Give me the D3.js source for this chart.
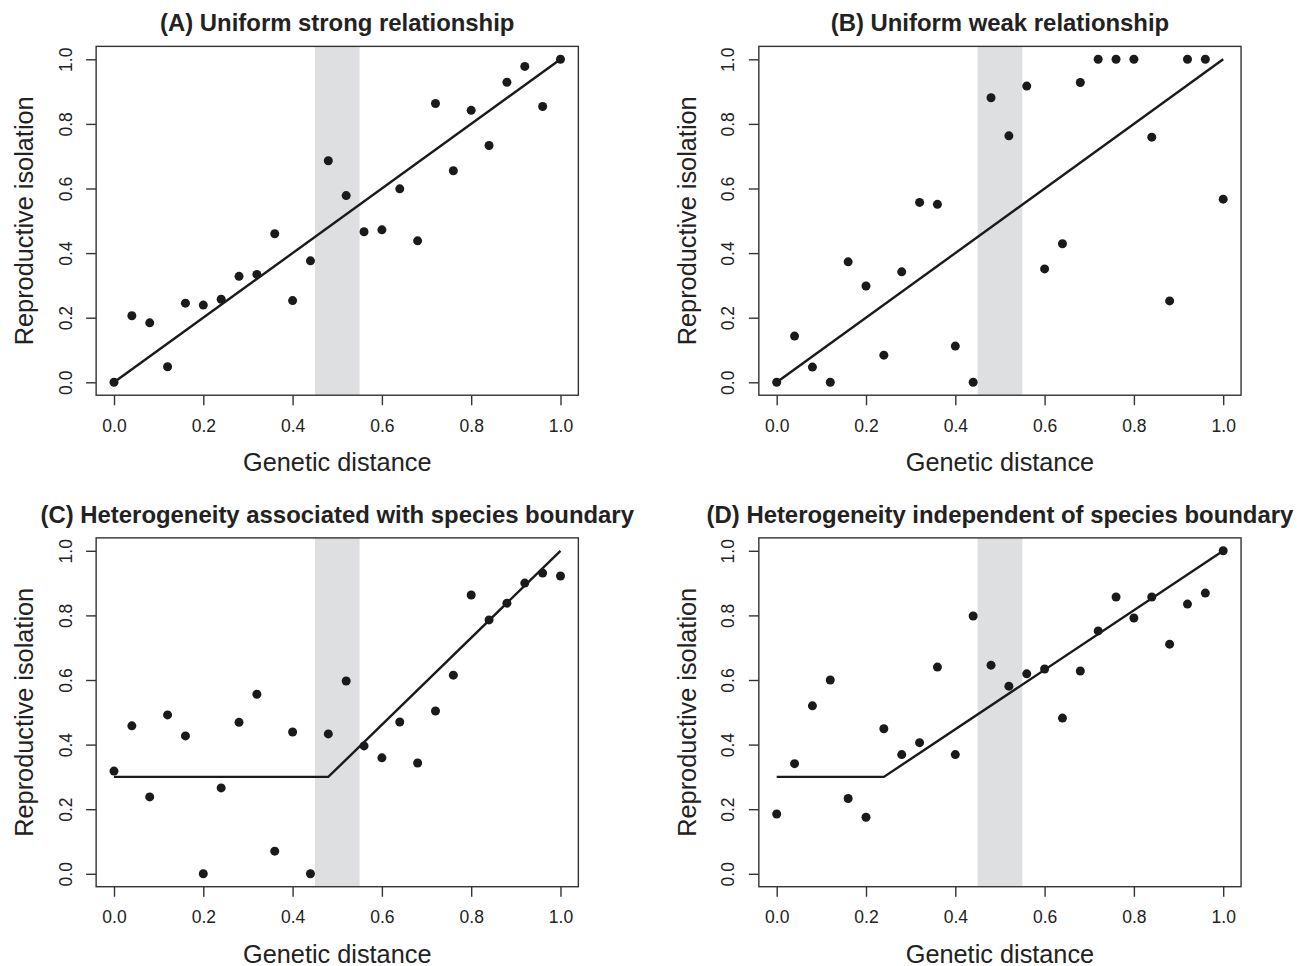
<!DOCTYPE html>
<html>
<head>
<meta charset="utf-8">
<script src="https://cdn.jsdelivr.net/npm/d3@7"></script>
<style>
  body { margin: 0; background: #fff; }
  svg text { font-family: "Liberation Sans", Arial, Helvetica, sans-serif; fill: #222; }
</style>
</head>
<body>
<script>
// shared x values (genetic distance)
var geneticDistance = [0.00, 0.04, 0.08, 0.12, 0.16, 0.20, 0.24, 0.28, 0.32, 0.36, 0.40, 0.44, 0.48,
                       0.52, 0.56, 0.60, 0.64, 0.68, 0.72, 0.76, 0.80, 0.84, 0.88, 0.92, 0.96, 1.00];

var isolationA = [0, 0.206, 0.184, 0.048, 0.245, 0.239, 0.257, 0.328, 0.334, 0.46, 0.253, 0.376, 0.686,
                  0.578, 0.466, 0.472, 0.599, 0.438, 0.863, 0.655, 0.842, 0.733, 0.929, 0.978, 0.854, 1.0];
var isolationB = [0, 0.143, 0.047, 0, 0.373, 0.298, 0.084, 0.342, 0.557, 0.551, 0.112, 0, 0.881,
                  0.763, 0.917, 0.351, 0.429, 0.928, 1, 1, 1, 0.759, 0.252, 1, 1, 0.567];
var isolationC = [0.318, 0.458, 0.238, 0.492, 0.427, 0, 0.266, 0.469, 0.556, 0.07, 0.439, 0, 0.433,
                  0.597, 0.396, 0.359, 0.47, 0.343, 0.504, 0.615, 0.863, 0.786, 0.838, 0.9, 0.931, 0.922];
var isolationD = [0.185, 0.341, 0.52, 0.6, 0.233, 0.175, 0.449, 0.369, 0.406, 0.64, 0.369, 0.798, 0.646,
                  0.581, 0.619, 0.634, 0.482, 0.628, 0.752, 0.857, 0.792, 0.857, 0.711, 0.835, 0.869, 1.0];

// fitted lines (breakpoints)
var lineA = [[0, 0], [1, 1]];
var lineB = [[0, 0], [1, 1]];
var lineC = [[0, 0.3], [0.48, 0.3], [1, 1]];
var lineD = [[0, 0.3], [0.24, 0.3], [1, 1]];

var titles = ["(A) Uniform strong relationship",
              "(B) Uniform weak relationship",
              "(C) Heterogeneity associated with species boundary",
              "(D) Heterogeneity independent of species boundary"];

var speciesBand = [0.45, 0.55];
var tickVals = [0, 0.2, 0.4, 0.6, 0.8, 1.0];

var panels = [
  {title: titles[0], y: isolationA, fit: lineA, dx: 0,     dy: 0},
  {title: titles[1], y: isolationB, fit: lineB, dx: 662.7, dy: 0},
  {title: titles[2], y: isolationC, fit: lineC, dx: 0,     dy: 491.5},
  {title: titles[3], y: isolationD, fit: lineD, dx: 662.7, dy: 491.5}
];

var svg = d3.select("body").append("svg")
    .attr("width", 1305)
    .attr("height", 966);

var x = d3.scaleLinear().domain([0, 1]).range([114, 560.5]);
var y = d3.scaleLinear().domain([0, 1]).range([382.3, 59.3]);
var fmt = d3.format(".1f");

function drawPanel(p) {
  var g = svg.append("g").attr("transform", "translate(" + p.dx + "," + p.dy + ")");

  // R-style 4% padding round the data range
  var bx0 = x(-0.04), bx1 = x(1.04), by0 = y(-0.04), by1 = y(1.04);

  g.append("rect")
    .attr("x", x(speciesBand[0]))
    .attr("width", x(speciesBand[1]) - x(speciesBand[0]))
    .attr("y", by1)
    .attr("height", by0 - by1)
    .style("fill", "#dedfe1");

  var line = d3.line().x(function(d) { return x(d[0]); }).y(function(d) { return y(d[1]); });
  g.append("path")
    .datum(p.fit)
    .attr("d", line)
    .style("fill", "none")
    .style("stroke", "#1a1a1a")
    .style("stroke-width", 2.4);

  g.selectAll("circle")
    .data(p.y)
    .enter()
    .append("circle")
    .attr("cx", function(d, i) { return x(geneticDistance[i]); })
    .attr("cy", function(d) { return y(d); })
    .attr("r", 4.5)
    .style("fill", "#1a1a1a");

  g.append("rect")
    .attr("x", bx0).attr("y", by1)
    .attr("width", bx1 - bx0).attr("height", by0 - by1)
    .style("fill", "none")
    .style("stroke", "#333")
    .style("stroke-width", 1.4);

  var xAxis = g.append("g")
    .attr("transform", "translate(0," + by0 + ")")
    .call(d3.axisBottom(x).tickValues(tickVals).tickFormat(fmt).tickSize(10).tickPadding(14));
  xAxis.select(".domain").remove();
  xAxis.selectAll("line").style("stroke", "#333").style("stroke-width", 1.4);
  xAxis.selectAll("text").style("font-size", "17.5px").style("fill", "#222");

  var yAxis = g.append("g")
    .attr("transform", "translate(" + bx0 + ",0)")
    .call(d3.axisLeft(y).tickValues(tickVals).tickFormat(fmt).tickSize(10));
  yAxis.select(".domain").remove();
  yAxis.selectAll("line").style("stroke", "#333").style("stroke-width", 1.4);
  yAxis.selectAll("text")
    .attr("x", null).attr("dy", null)
    .attr("transform", "translate(" + (71.5 - bx0) + ",0) rotate(-90)")
    .attr("text-anchor", "middle")
    .style("font-size", "17.5px")
    .style("fill", "#222");

  var cx = (x(0) + x(1)) / 2;
  g.append("text")
    .attr("x", cx).attr("y", 31)
    .attr("text-anchor", "middle")
    .style("font-size", "23.9px")
    .style("font-weight", "bold")
    .text(p.title);

  g.append("text")
    .attr("x", cx).attr("y", 471)
    .attr("text-anchor", "middle")
    .style("font-size", "25.3px")
    .text("Genetic distance");

  g.append("text")
    .attr("transform", "translate(33," + (y(0) + y(1)) / 2 + ") rotate(-90)")
    .attr("text-anchor", "middle")
    .style("font-size", "25.3px")
    .text("Reproductive isolation");
}

panels.forEach(drawPanel);
</script>
</body>
</html>
